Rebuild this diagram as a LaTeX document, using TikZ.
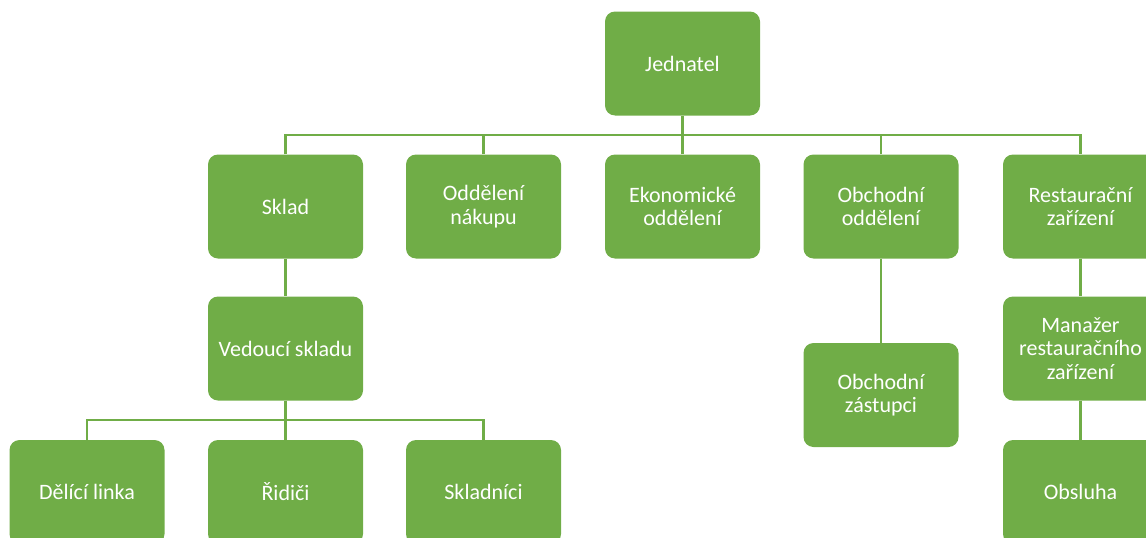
\documentclass[tikz,border=0pt]{standalone}
\usepackage{fontspec}
\setmainfont{Carlito}
\definecolor{boxgreen}{HTML}{70AD47}
\tikzset{
  orgbox/.style={fill=boxgreen, rounded corners=10pt, minimum width=155pt, minimum height=104pt,
    inner sep=0pt, text=white, align=center, font=\fontsize{22}{23.5}\selectfont},
  conn/.style={draw=boxgreen, line width=2.6pt}
}
\begin{document}
\begin{tikzpicture}[x=1pt,y=-1pt]
\useasboundingbox (0,0) rectangle (1146,538);
\clip (0,0) rectangle (1146,538);
\node[orgbox] (jed) at (682.5,63.5) {Jednatel};
\node[orgbox] (sklad) at (285.5,206.5) {Sklad};
\node[orgbox] (nak) at (483.5,206.5) {Oddělení\\nákupu};
\node[orgbox] (eko) at (682.5,206.5) {Ekonomické\\oddělení};
\node[orgbox] (obch) at (881,206.5) {Obchodní\\oddělení};
\node[orgbox] (rest) at (1080.5,206.5) {Restaurační\\zařízení};
\node[orgbox] (ved) at (285.5,348.5) {Vedoucí skladu};
\node[orgbox] (del) at (87,492) {Dělící linka};
\node[orgbox] (rid) at (285.5,492) {Řidiči};
\node[orgbox] (skl) at (483.5,492) {Skladníci};
\node[orgbox] (zast) at (881,395) {Obchodní\\zástupci};
\node[orgbox] (man) at (1080.5,348.5) {Manažer\\restauračního\\zařízení};
\node[orgbox] (obs) at (1080.5,492) {Obsluha};
\coordinate (bus1) at (682.5,135);
\coordinate (bus2) at (285.5,420);
\draw[conn] (jed.south) -- (bus1);
\draw[conn] (sklad.north) |- (bus1) -| (rest.north);
\draw[conn] (nak.north) -- (nak.north |- bus1);
\draw[conn] (eko.north) -- (bus1);
\draw[conn] (obch.north) -- (obch.north |- bus1);
\draw[conn] (sklad.south) -- (ved.north);
\draw[conn] (ved.south) -- (bus2);
\draw[conn] (del.north) |- (bus2) -| (skl.north);
\draw[conn] (rid.north) -- (bus2);
\draw[conn] (obch.south) -- (zast.north);
\draw[conn] (rest.south) -- (man.north);
\draw[conn] (man.south) -- (obs.north);
\end{tikzpicture}
\end{document}
